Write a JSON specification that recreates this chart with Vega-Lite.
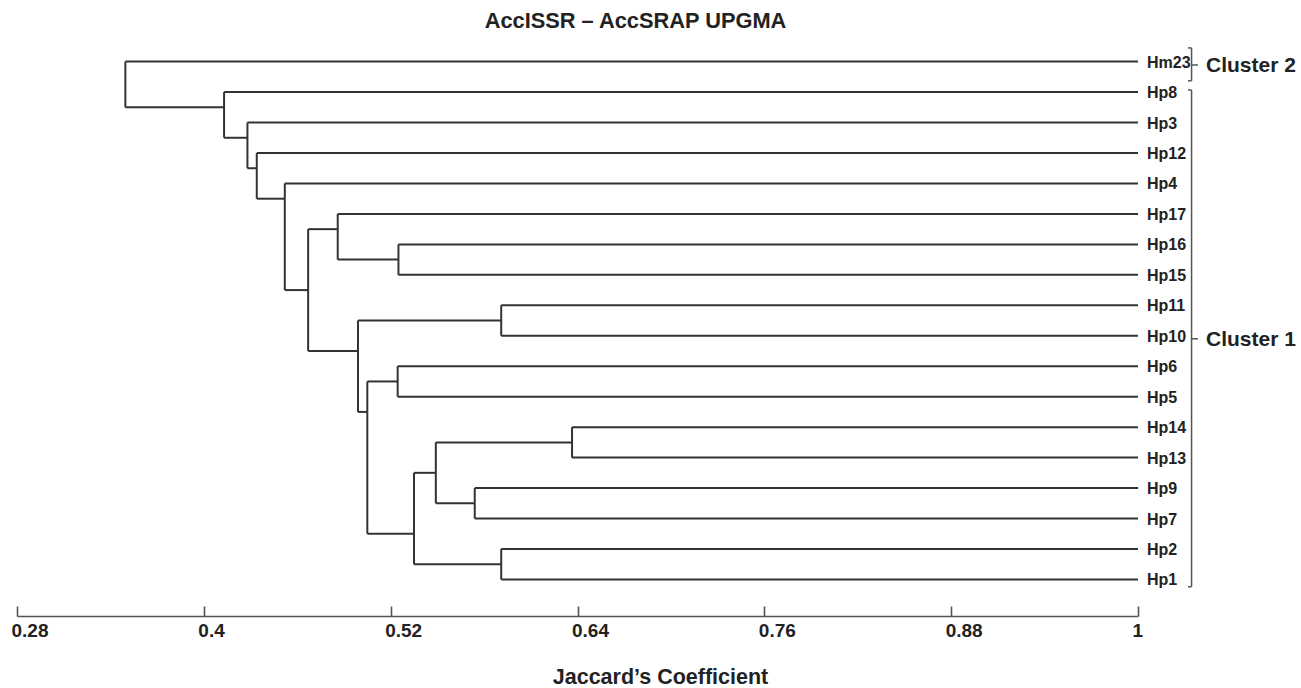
{
  "$schema": "https://vega.github.io/schema/vega-lite/v6.json",
  "width": 1121,
  "height": 569,
  "autosize": "none",
  "padding": {"left": 17, "top": 47, "right": 163, "bottom": 72},
  "background": "white",
  "config": {"view": {"stroke": null}, "font": "Liberation Sans"},
  "title": {"text": "AccISSR – AccSRAP UPGMA", "anchor": "middle", "frame": "group", "dx": 58, "offset": 14, "fontSize": 21.8, "fontWeight": "bold", "color": "#222", "font": "Liberation Sans"},
  "datasets": {
    "segments": [
      {"x": 0.3496, "x2": 1, "y": 0, "y2": 0},
      {"x": 0.413, "x2": 1, "y": 1, "y2": 1},
      {"x": 0.428, "x2": 1, "y": 2, "y2": 2},
      {"x": 0.434, "x2": 1, "y": 3, "y2": 3},
      {"x": 0.452, "x2": 1, "y": 4, "y2": 4},
      {"x": 0.486, "x2": 1, "y": 5, "y2": 5},
      {"x": 0.525, "x2": 1, "y": 6, "y2": 6},
      {"x": 0.525, "x2": 1, "y": 7, "y2": 7},
      {"x": 0.591, "x2": 1, "y": 8, "y2": 8},
      {"x": 0.591, "x2": 1, "y": 9, "y2": 9},
      {"x": 0.5245, "x2": 1, "y": 10, "y2": 10},
      {"x": 0.5245, "x2": 1, "y": 11, "y2": 11},
      {"x": 0.6365, "x2": 1, "y": 12, "y2": 12},
      {"x": 0.6365, "x2": 1, "y": 13, "y2": 13},
      {"x": 0.574, "x2": 1, "y": 14, "y2": 14},
      {"x": 0.574, "x2": 1, "y": 15, "y2": 15},
      {"x": 0.591, "x2": 1, "y": 16, "y2": 16},
      {"x": 0.591, "x2": 1, "y": 17, "y2": 17},
      {"x": 0.3496, "x2": 0.413, "y": 1.5, "y2": 1.5},
      {"x": 0.413, "x2": 0.428, "y": 2.5, "y2": 2.5},
      {"x": 0.428, "x2": 0.434, "y": 3.5, "y2": 3.5},
      {"x": 0.434, "x2": 0.452, "y": 4.5, "y2": 4.5},
      {"x": 0.452, "x2": 0.467, "y": 7.5, "y2": 7.5},
      {"x": 0.467, "x2": 0.486, "y": 5.5, "y2": 5.5},
      {"x": 0.486, "x2": 0.525, "y": 6.5, "y2": 6.5},
      {"x": 0.467, "x2": 0.499, "y": 9.5, "y2": 9.5},
      {"x": 0.499, "x2": 0.591, "y": 8.5, "y2": 8.5},
      {"x": 0.499, "x2": 0.505, "y": 11.5, "y2": 11.5},
      {"x": 0.505, "x2": 0.5245, "y": 10.5, "y2": 10.5},
      {"x": 0.505, "x2": 0.535, "y": 15.5, "y2": 15.5},
      {"x": 0.535, "x2": 0.549, "y": 13.5, "y2": 13.5},
      {"x": 0.549, "x2": 0.6365, "y": 12.5, "y2": 12.5},
      {"x": 0.549, "x2": 0.574, "y": 14.5, "y2": 14.5},
      {"x": 0.535, "x2": 0.591, "y": 16.5, "y2": 16.5},
      {"x": 0.3496, "x2": 0.3496, "y": 0, "y2": 1.5},
      {"x": 0.413, "x2": 0.413, "y": 1, "y2": 2.5},
      {"x": 0.428, "x2": 0.428, "y": 2, "y2": 3.5},
      {"x": 0.434, "x2": 0.434, "y": 3, "y2": 4.5},
      {"x": 0.452, "x2": 0.452, "y": 4, "y2": 7.5},
      {"x": 0.467, "x2": 0.467, "y": 5.5, "y2": 9.5},
      {"x": 0.486, "x2": 0.486, "y": 5, "y2": 6.5},
      {"x": 0.525, "x2": 0.525, "y": 6, "y2": 7},
      {"x": 0.499, "x2": 0.499, "y": 8.5, "y2": 11.5},
      {"x": 0.591, "x2": 0.591, "y": 8, "y2": 9},
      {"x": 0.505, "x2": 0.505, "y": 10.5, "y2": 15.5},
      {"x": 0.5245, "x2": 0.5245, "y": 10, "y2": 11},
      {"x": 0.535, "x2": 0.535, "y": 13.5, "y2": 16.5},
      {"x": 0.549, "x2": 0.549, "y": 12.5, "y2": 14.5},
      {"x": 0.6365, "x2": 0.6365, "y": 12, "y2": 13},
      {"x": 0.574, "x2": 0.574, "y": 14, "y2": 15},
      {"x": 0.591, "x2": 0.591, "y": 16, "y2": 17}
    ],
    "leaves": [
      {"name": "Hm23", "x": 1, "y": 0},
      {"name": "Hp8", "x": 1, "y": 1},
      {"name": "Hp3", "x": 1, "y": 2},
      {"name": "Hp12", "x": 1, "y": 3},
      {"name": "Hp4", "x": 1, "y": 4},
      {"name": "Hp17", "x": 1, "y": 5},
      {"name": "Hp16", "x": 1, "y": 6},
      {"name": "Hp15", "x": 1, "y": 7},
      {"name": "Hp11", "x": 1, "y": 8},
      {"name": "Hp10", "x": 1, "y": 9},
      {"name": "Hp6", "x": 1, "y": 10},
      {"name": "Hp5", "x": 1, "y": 11},
      {"name": "Hp14", "x": 1, "y": 12},
      {"name": "Hp13", "x": 1, "y": 13},
      {"name": "Hp9", "x": 1, "y": 14},
      {"name": "Hp7", "x": 1, "y": 15},
      {"name": "Hp2", "x": 1, "y": 16},
      {"name": "Hp1", "x": 1, "y": 17}
    ],
    "brackets": [
      {"x": 1.0321, "x2": 1.0344, "y": -0.45, "y2": -0.45},
      {"x": 1.0344, "x2": 1.0344, "y": -0.45, "y2": 0.63},
      {"x": 1.0321, "x2": 1.0344, "y": 0.63, "y2": 0.63},
      {"x": 1.0344, "x2": 1.0385, "y": 0.11, "y2": 0.11},
      {"x": 1.0321, "x2": 1.0344, "y": 0.93, "y2": 0.93},
      {"x": 1.0344, "x2": 1.0344, "y": 0.93, "y2": 17.24},
      {"x": 1.0321, "x2": 1.0344, "y": 17.24, "y2": 17.24},
      {"x": 1.0344, "x2": 1.0385, "y": 9.1, "y2": 9.1}
    ],
    "clusters": [
      {"label": "Cluster 2", "x": 1.0437, "y": 0.11},
      {"label": "Cluster 1", "x": 1.0437, "y": 9.1}
    ]
  },
  "layer": [
    {
      "data": {"name": "segments"},
      "mark": {"type": "rule", "color": "#333", "strokeWidth": 2},
      "encoding": {
        "x": {"field": "x", "type": "quantitative", "scale": {"domain": [0.28, 1], "nice": false, "zero": false},
          "axis": {"orient": "bottom", "values": [0.28, 0.4, 0.52, 0.64, 0.76, 0.88, 1], "format": "~g", "grid": false,
            "domainColor": "#555", "domainWidth": 1.6, "tickColor": "#555", "tickWidth": 1.6, "tickSize": -10,
            "labelFont": "Liberation Sans", "labelFontSize": 19, "labelFontWeight": "bold", "labelColor": "#222",
            "labelAlign": "left", "labelOffset": -6, "labelPadding": 15, "labelBaseline": "top", "labelFlush": false, "labelOverlap": false,
            "title": "Jaccard’s Coefficient", "titleFont": "Liberation Sans", "titleFontSize": 21.5, "titleFontWeight": "bold", "titleColor": "#222",
            "titleX": 643, "titleY": 67, "titleAlign": "center", "titleBaseline": "alphabetic"}},
        "x2": {"field": "x2"},
        "y": {"field": "y", "type": "quantitative", "scale": {"domain": [-0.48, 18.2], "nice": false, "zero": false, "reverse": true}, "axis": null},
        "y2": {"field": "y2"}
      }
    },
    {
      "data": {"name": "brackets"},
      "mark": {"type": "rule", "color": "#555", "strokeWidth": 1.5, "clip": false},
      "encoding": {
        "x": {"field": "x", "type": "quantitative"},
        "x2": {"field": "x2"},
        "y": {"field": "y", "type": "quantitative"},
        "y2": {"field": "y2"}
      }
    },
    {
      "data": {"name": "leaves"},
      "mark": {"type": "text", "align": "left", "baseline": "middle", "dx": 9, "dy": 1, "font": "Liberation Sans", "fontSize": 16, "fontWeight": "bold", "color": "#222"},
      "encoding": {
        "x": {"field": "x", "type": "quantitative"},
        "y": {"field": "y", "type": "quantitative"},
        "text": {"field": "name"}
      }
    },
    {
      "data": {"name": "clusters"},
      "mark": {"type": "text", "align": "left", "baseline": "middle", "dy": 1, "font": "Liberation Sans", "fontSize": 21, "fontWeight": "bold", "color": "#222"},
      "encoding": {
        "x": {"field": "x", "type": "quantitative"},
        "y": {"field": "y", "type": "quantitative"},
        "text": {"field": "label"}
      }
    }
  ]
}
